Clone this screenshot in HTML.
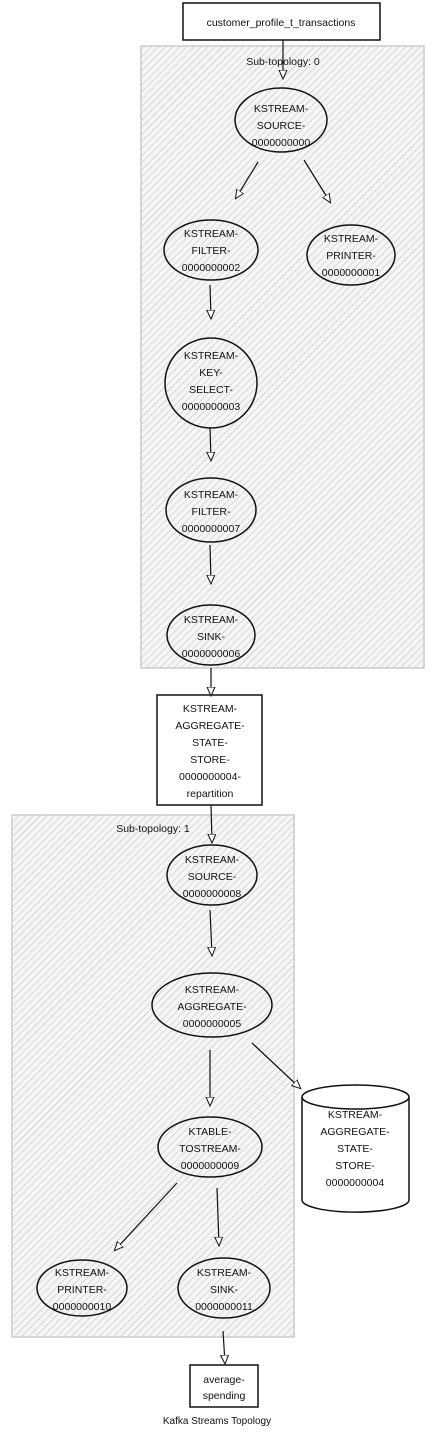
<!DOCTYPE html>
<html><head><meta charset="utf-8"><style>html,body{margin:0;padding:0;background:#fff}svg{display:block}text{font-family:"Liberation Sans",sans-serif;font-size:10.5px;fill:#111;text-anchor:middle}</style></head><body>
<svg width="435" height="1435" viewBox="0 0 435 1435" xmlns="http://www.w3.org/2000/svg">
<defs>
<pattern id="h" width="5" height="5" patternUnits="userSpaceOnUse" patternTransform="rotate(45)">
<rect width="5" height="5" fill="#f5f5f5"/><line x1="0" y1="0" x2="0" y2="5" stroke="#bdbdbd" stroke-width="1"/></pattern>
<marker id="a" markerWidth="10" markerHeight="10" refX="8" refY="5" orient="auto" markerUnits="userSpaceOnUse"><path d="M0,1 L9,5 L0,9 Z" fill="#fff" stroke="#111" stroke-width="1"/></marker>
</defs>
<rect x="141" y="46" width="283" height="622" fill="url(#h)" stroke="#ccc" stroke-width="1.5"/>
<rect x="12" y="815" width="282" height="522" fill="url(#h)" stroke="#ccc" stroke-width="1.5"/>
<g fill="none" stroke="#111" stroke-width="1.5">
<rect x="183" y="3" width="197" height="37" fill="#fff"/>
<rect x="157" y="695" width="105" height="110" fill="#fff"/>
<rect x="190" y="1365" width="68" height="42" fill="#fff"/>
<ellipse cx="281" cy="120" rx="46" ry="32"/>
<ellipse cx="211" cy="250" rx="47" ry="30"/>
<ellipse cx="351" cy="255" rx="44" ry="30"/>
<ellipse cx="211" cy="383" rx="46" ry="45"/>
<ellipse cx="211" cy="510" rx="45" ry="32"/>
<ellipse cx="211" cy="635" rx="44" ry="30"/>
<ellipse cx="212" cy="875" rx="45" ry="30"/>
<ellipse cx="212" cy="1005" rx="60" ry="32"/>
<ellipse cx="210" cy="1147" rx="52" ry="30"/>
<ellipse cx="82" cy="1288" rx="45" ry="28"/>
<ellipse cx="224" cy="1288" rx="46" ry="30"/>
<path d="M302,1097 L302,1200 A53,12 0 0 0 409,1200 L409,1097" fill="#fff"/>
<ellipse cx="355.5" cy="1097" rx="53.5" ry="12" fill="#fff"/>
</g>
<g fill="none" stroke="#111" stroke-width="1.2">
<path d="M283,40 L283,78" marker-end="url(#a)"/>
<path d="M258,162 L236,198" marker-end="url(#a)"/>
<path d="M304,160 L330,202" marker-end="url(#a)"/>
<path d="M210,285 L211,318" marker-end="url(#a)"/>
<path d="M210,428 L211,460" marker-end="url(#a)"/>
<path d="M210,545 L211,583" marker-end="url(#a)"/>
<path d="M211,668 L211,695" marker-end="url(#a)"/>
<path d="M211,805 L212,842" marker-end="url(#a)"/>
<path d="M210,910 L212,955" marker-end="url(#a)"/>
<path d="M210,1050 L210,1105" marker-end="url(#a)"/>
<path d="M252,1043 L300,1088" marker-end="url(#a)"/>
<path d="M177,1183 L115,1250" marker-end="url(#a)"/>
<path d="M217,1188 L219,1245" marker-end="url(#a)"/>
<path d="M223,1331 L225,1363" marker-end="url(#a)"/>
</g>
<text x="281" y="26">customer_profile_t_transactions</text>
<text x="283" y="65">Sub-topology: 0</text>
<g transform="translate(0,4)">
<text x="281" y="108">KSTREAM-</text><text x="281" y="125">SOURCE-</text><text x="281" y="142">0000000000</text>
<text x="211" y="233">KSTREAM-</text><text x="211" y="250">FILTER-</text><text x="211" y="267">0000000002</text>
<text x="351" y="238">KSTREAM-</text><text x="351" y="255">PRINTER-</text><text x="351" y="272">0000000001</text>
<text x="211" y="355">KSTREAM-</text><text x="211" y="372">KEY-</text><text x="211" y="389">SELECT-</text><text x="211" y="406">0000000003</text>
<text x="211" y="494">KSTREAM-</text><text x="211" y="511">FILTER-</text><text x="211" y="528">0000000007</text>
<text x="211" y="619">KSTREAM-</text><text x="211" y="636">SINK-</text><text x="211" y="653">0000000006</text>
<text x="212" y="859">KSTREAM-</text><text x="212" y="876">SOURCE-</text><text x="212" y="893">0000000008</text>
<text x="212" y="989">KSTREAM-</text><text x="212" y="1006">AGGREGATE-</text><text x="212" y="1023">0000000005</text>
<text x="210" y="1131">KTABLE-</text><text x="210" y="1148">TOSTREAM-</text><text x="210" y="1165">0000000009</text>
<text x="82" y="1272">KSTREAM-</text><text x="82" y="1289">PRINTER-</text><text x="82" y="1306">0000000010</text>
<text x="224" y="1272">KSTREAM-</text><text x="224" y="1289">SINK-</text><text x="224" y="1306">0000000011</text>
<text x="355" y="1114">KSTREAM-</text><text x="355" y="1131">AGGREGATE-</text><text x="355" y="1148">STATE-</text><text x="355" y="1165">STORE-</text><text x="355" y="1182">0000000004</text>
</g>
<text x="210" y="712">KSTREAM-</text><text x="210" y="729">AGGREGATE-</text><text x="210" y="746">STATE-</text><text x="210" y="763">STORE-</text><text x="210" y="780">0000000004-</text><text x="210" y="797">repartition</text>
<text x="153" y="832">Sub-topology: 1</text>
<text x="224" y="1383">average-</text><text x="224" y="1399">spending</text>
<text x="217" y="1424" style="font-size:10px">Kafka Streams Topology</text>
</svg>
</body></html>
